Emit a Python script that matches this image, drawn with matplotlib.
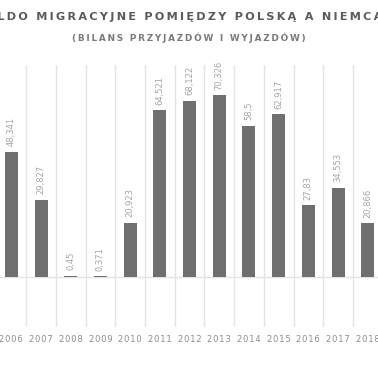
import matplotlib
matplotlib.use('Agg')
from matplotlib import pyplot as plt

# saldo migracyjne (tys.)
years = ['2006', '2007', '2008', '2009', '2010', '2011', '2012',
         '2013', '2014', '2015', '2016', '2017', '2018']
values = [48.341, 29.827, 0.45, 0.371, 20.923, 64.521, 68.122,
          70.326, 58.5, 62.917, 27.83, 34.553, 20.866]
labels = ['48,341', '29,827', '0,45', '0,371', '20,923', '64,521', '68,122',
          '70,326', '58,5', '62,917', '27,83', '34,553', '20,866']

title = 'SALDO MIGRACYJNE POMIĘDZY POLSKĄ A NIEMCAMI'
subtitle = '(BILANS PRZYJAZDÓW I WYJAZDÓW)'

W, H = 378, 370
fig = plt.figure(figsize=(W / 100, H / 100), dpi=100)

# axes in pixel coords: x -3.5..382.6, y 65..327 (from top)
left, right, top, bottom = -3.5, 382.6, 65, 327
ax = fig.add_axes([left / W, (H - bottom) / H, (right - left) / W, (bottom - top) / H])

x = range(len(years))
ax.bar(x, values, width=0.44, color='#6f6f6f', zorder=3)
ax.set_xlim(-0.5, len(years) - 0.5)
ax.set_ylim(-19.3, 82)

# vertical grid between categories and zero line
for i in range(len(years) + 1):
    ax.axvline(i - 0.5, color='#e4e4e4', lw=1, zorder=1)
ax.axhline(0, color='#e4e4e4', lw=1, zorder=2)

for xi, v, lab in zip(x, values, labels):
    ax.annotate(lab, (xi, v), xytext=(0, 4), textcoords='offset points',
                rotation=90, ha='center', va='bottom', fontsize=6,
                color='#a5a5a5', annotation_clip=False)

ax.set_xticks(list(x))
ax.set_xticklabels(['\u200a'.join(y) for y in years], fontsize=6, color='#8c8c8c')
ax.tick_params(axis='x', length=0, pad=6)
ax.set_yticks([])
for s in ax.spines.values():
    s.set_visible(False)

fig.text(189 / W, 1 - 17 / H, '\u2009'.join(title), ha='center', va='center',
         fontsize=8.1, fontweight='bold', color='#5a5a5a')
fig.text(189 / W, 1 - 37.5 / H, '\u2009'.join(subtitle), ha='center', va='center',
         fontsize=6.4, fontweight='bold', color='#7a7a7a')

fig.savefig('out.png', dpi=100)
